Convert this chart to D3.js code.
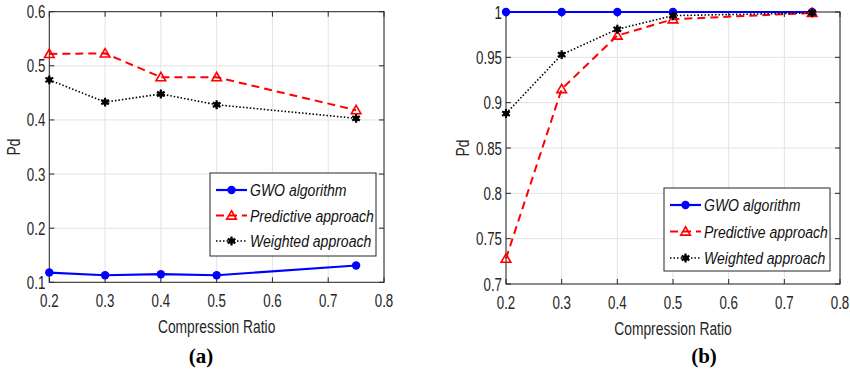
<!DOCTYPE html>
<html>
<head>
<meta charset="utf-8">
<script src="https://cdn.jsdelivr.net/npm/d3@7"></script>
<style>
  body { margin: 0; background: #fff; }
  svg text { font-family: "Liberation Sans", Arial, sans-serif; fill: #262626; }
</style>
</head>
<body>
<svg id="chart" width="850" height="372"></svg>
<script>
// Data
const ratios = [0.2, 0.3, 0.4, 0.5, 0.75];
const seriesNames = ['GWO algorithm', 'Predictive approach', 'Weighted approach'];

// panel (a)
const gwoA = [0.118, 0.113, 0.115, 0.113, 0.131];
const predA = [0.522, 0.523, 0.479, 0.479, 0.418];
const weightA = [0.474, 0.433, 0.448, 0.428, 0.403];

// panel (b)
const gwoB = [1.0, 1.0, 1.0, 1.0, 1.0];
const predB = [0.728, 0.915, 0.974, 0.992, 0.999];
const weightB = [0.888, 0.953, 0.981, 0.996, 0.999];

const xTicks = [0.2, 0.3, 0.4, 0.5, 0.6, 0.7, 0.8];
const yTicksA = [0.1, 0.2, 0.3, 0.4, 0.5, 0.6];
const yTicksB = [0.7, 0.75, 0.8, 0.85, 0.9, 0.95, 1];

const svg = d3.select('#chart');

const styles = [
  { color: '#0000ff', dash: null, width: 2.2, marker: 'circle' },
  { color: '#ff0000', dash: '8,5', width: 2, marker: 'triangle' },
  { color: '#000000', dash: '1.5,2', width: 1.6, marker: 'asterisk' }
];

// horizontally squeezed text, like the original export
const label = (g, x, y, txt, opts = {}) => {
  const sx = opts.sx || 0.72;
  const t = g.append('text')
    .attr('transform', `translate(${x},${y})` + (opts.rotate ? ` rotate(${opts.rotate})` : '') + ` scale(${sx},1)`)
    .attr('text-anchor', opts.anchor || 'start')
    .style('font-size', (opts.size || 18.5) + 'px')
    .text(txt);
  if (opts.italic) t.style('font-style', 'italic');
  if (opts.family) t.style('font-family', opts.family);
  if (opts.weight) t.style('font-weight', opts.weight);
  return t;
};

const drawMarker = (g, type, x, y, color) => {
  if (type === 'circle') {
    g.append('circle').attr('cx', x).attr('cy', y).attr('r', 4.2).attr('fill', color);
  } else if (type === 'triangle') {
    g.append('path')
      .attr('d', d3.symbol(d3.symbolTriangle, 40)())
      .attr('transform', `translate(${x},${y + 0.8})`)
      .attr('fill', 'none').attr('stroke', color).attr('stroke-width', 1.6);
  } else {
    g.append('path')
      .attr('d', d3.symbol(d3.symbolAsterisk, 55)())
      .attr('transform', `translate(${x},${y})`)
      .attr('fill', 'none').attr('stroke', color).attr('stroke-width', 2.2);
    g.append('circle').attr('cx', x).attr('cy', y).attr('r', 2.8).attr('fill', color);
  }
};

const drawPanel = (p) => {
  const g = svg.append('g');
  const x = d3.scaleLinear().domain([0.2, 0.8]).range([p.left, p.right]);
  const y = d3.scaleLinear().domain(p.yDomain).range([p.bottom, p.top]);

  // grid
  g.selectAll('.gx').data(xTicks).join('line')
    .attr('x1', d => x(d)).attr('x2', d => x(d))
    .attr('y1', p.top).attr('y2', p.bottom)
    .attr('stroke', '#e3e3e3').attr('stroke-width', 1);
  g.selectAll('.gy').data(p.yTicks).join('line')
    .attr('x1', p.left).attr('x2', p.right)
    .attr('y1', d => y(d)).attr('y2', d => y(d))
    .attr('stroke', '#e3e3e3').attr('stroke-width', 1);

  // inward ticks on all sides
  const tl = 5;
  xTicks.forEach(t => {
    g.append('line').attr('x1', x(t)).attr('x2', x(t)).attr('y1', p.bottom).attr('y2', p.bottom - tl).attr('stroke', '#262626');
    g.append('line').attr('x1', x(t)).attr('x2', x(t)).attr('y1', p.top).attr('y2', p.top + tl).attr('stroke', '#262626');
  });
  p.yTicks.forEach(t => {
    g.append('line').attr('x1', p.left).attr('x2', p.left + tl).attr('y1', y(t)).attr('y2', y(t)).attr('stroke', '#262626');
    g.append('line').attr('x1', p.right).attr('x2', p.right - tl).attr('y1', y(t)).attr('y2', y(t)).attr('stroke', '#262626');
  });

  // box
  g.append('rect')
    .attr('x', p.left).attr('y', p.top)
    .attr('width', p.right - p.left).attr('height', p.bottom - p.top)
    .attr('fill', 'none').attr('stroke', '#262626').attr('stroke-width', 1);

  // tick labels
  xTicks.forEach(t => label(g, x(t), p.bottom + 25, d3.format('.1f')(t), { anchor: 'middle' }));
  p.yTicks.forEach(t => label(g, p.left - 4, y(t) + 6.5, String(t), { anchor: 'end' }));

  // axis titles
  label(g, (p.left + p.right) / 2, p.bottom + 51, 'Compression Ratio', { anchor: 'middle', size: 17.5, sx: 0.79 });
  label(g, p.yLabelX, (p.top + p.bottom) / 2, 'Pd', { anchor: 'middle', size: 17.5, sx: 0.79, rotate: -90 });

  // series
  const line = d3.line().x((d, i) => x(ratios[i])).y(d => y(d));
  p.series.forEach((vals, k) => {
    const s = styles[k];
    g.append('path').datum(vals)
      .attr('d', line)
      .attr('fill', 'none').attr('stroke', s.color)
      .attr('stroke-width', s.width)
      .attr('stroke-dasharray', s.dash);
    vals.forEach((v, i) => drawMarker(g, s.marker, x(ratios[i]), y(v), s.color));
  });

  // legend
  const L = p.legend;
  g.append('rect').attr('x', L.x).attr('y', L.y).attr('width', L.w).attr('height', L.h)
    .attr('fill', '#fff').attr('stroke', '#262626').attr('stroke-width', 1);
  seriesNames.forEach((name, k) => {
    const s = styles[k];
    const ry = L.y + 17 + k * L.step;
    g.append('line')
      .attr('x1', L.x + 6).attr('x2', L.x + 37).attr('y1', ry).attr('y2', ry)
      .attr('stroke', s.color).attr('stroke-width', s.width)
      .attr('stroke-dasharray', s.dash);
    drawMarker(g, s.marker, L.x + 21.5, ry, s.color);
    label(g, L.x + 40, ry + 6, name, { italic: true, size: 16.5, sx: 0.85 }).style('fill', '#111');
  });

  // caption
  label(g, p.captionX, 363, p.caption, { anchor: 'middle', size: 21, sx: 1, family: '"Liberation Serif", "Times New Roman", serif', weight: 'bold' }).style('fill', '#000');
};

drawPanel({
  left: 49.3, right: 384, top: 11.7, bottom: 282.3,
  yDomain: [0.1, 0.6], yTicks: yTicksA, yLabelX: 20,
  series: [gwoA, predA, weightA],
  legend: { x: 210, y: 173, w: 166, h: 83, step: 25.5 },
  caption: '(a)', captionX: 201
});

drawPanel({
  left: 506, right: 840, top: 12, bottom: 284,
  yDomain: [0.7, 1.0], yTicks: yTicksB, yLabelX: 469,
  series: [gwoB, predB, weightB],
  legend: { x: 664, y: 188, w: 166, h: 83, step: 26.5 },
  caption: '(b)', captionX: 704
});
</script>
</body>
</html>
